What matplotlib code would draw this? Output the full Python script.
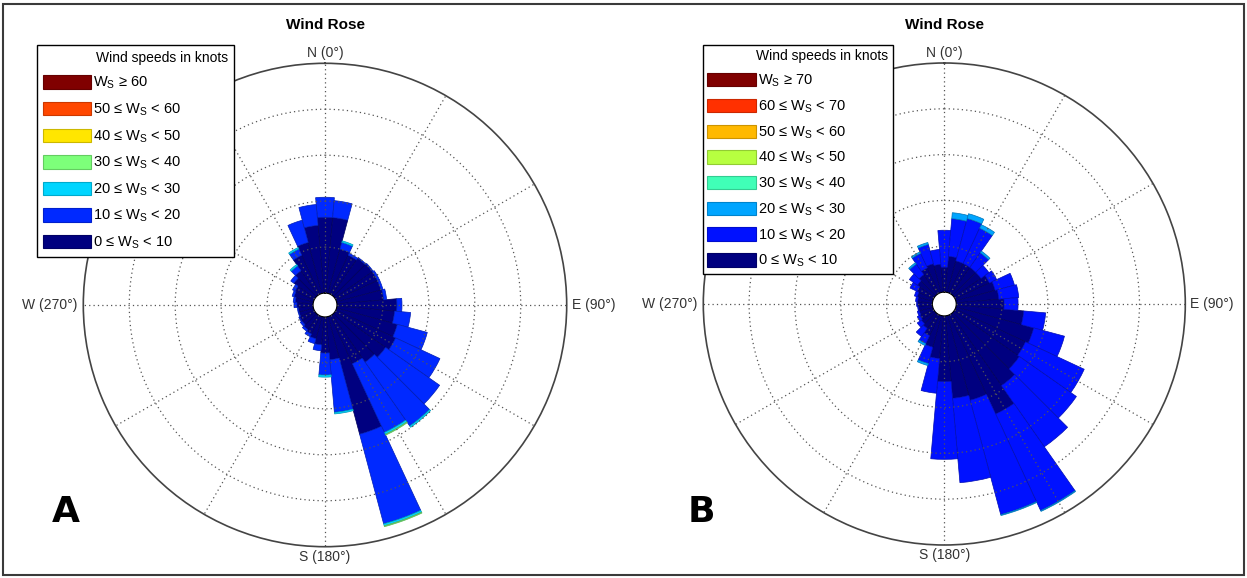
import numpy as np
import matplotlib.pyplot as plt
from matplotlib.patches import Patch, Rectangle

plt.rcParams['font.family'] = ['Liberation Sans', 'DejaVu Sans']
plt.rcParams['mathtext.default'] = 'regular'

directions = np.arange(0, 360, 10)  # degrees, sector centres

# Rose A - frequency (%) per direction and speed band
a_0_10 = [3.30, 3.30, 2.00, 1.87, 1.96, 2.00, 2.00, 2.00, 2.04, 2.61,
          2.52, 2.74, 2.87, 2.70, 2.52, 2.30, 5.30, 1.87, 1.57, 1.22,
          1.00, 0.87, 0.78, 0.70, 0.70, 0.65, 0.65, 0.70, 0.78, 0.87,
          0.91, 1.13, 1.30, 1.87, 2.30, 2.96]
a_10_20 = [0.87, 0.74, 0.30, 0.09, 0.04, 0.04, 0.09, 0.09, 0.13, 0.22,
           0.70, 1.35, 2.13, 2.87, 3.39, 3.30, 4.04, 2.30, 0.96, 0.26,
           0.22, 0.13, 0.09, 0.09, 0.04, 0.04, 0.04, 0.13, 0.09, 0.09,
           0.13, 0.17, 0.26, 0.30, 1.00, 0.91]
a_20_30 = [0, 0, 0.07, 0, 0, 0, 0, 0, 0, 0,
           0, 0, 0, 0, 0.07, 0.09, 0.09, 0.07, 0.09, 0,
           0, 0, 0, 0, 0, 0, 0, 0, 0, 0,
           0, 0, 0.07, 0.07, 0, 0]
a_30_40 = [0, 0, 0, 0, 0, 0, 0, 0, 0, 0,
           0, 0, 0, 0, 0, 0.04, 0.04, 0, 0, 0,
           0, 0, 0, 0, 0, 0, 0, 0, 0, 0,
           0, 0, 0, 0, 0, 0]
a_labels = ['0 ≤ W$_S$ < 10', '10 ≤ W$_S$ < 20', '20 ≤ W$_S$ < 30',
            '30 ≤ W$_S$ < 40', '40 ≤ W$_S$ < 50', '50 ≤ W$_S$ < 60',
            'W$_S$ ≥ 60']

# Rose B
b_0_10 = [1.09, 1.57, 1.43, 1.43, 1.43, 1.43, 1.65, 1.78, 1.87, 2.09,
          2.96, 3.52, 3.39, 3.48, 3.83, 4.78, 3.83, 3.61, 2.87, 1.87,
          1.43, 1.00, 0.78, 0.70, 0.65, 0.61, 0.61, 0.65, 0.65, 0.70,
          0.78, 0.91, 1.04, 1.22, 1.30, 1.22]
b_10_20 = [1.61, 1.65, 1.91, 1.70, 0.78, 0.43, 0.35, 0.87, 0.87, 0.61,
           0.96, 1.39, 2.83, 3.04, 3.26, 4.65, 5.17, 3.70, 3.39, 1.52,
           0.74, 0.39, 0.43, 0.22, 0.13, 0.09, 0.04, 0.04, 0.09, 0.13,
           0.35, 0.43, 0.57, 0.70, 0.87, 0.65]
b_20_30 = [0, 0.26, 0.22, 0.17, 0.09, 0, 0, 0, 0, 0,
           0, 0, 0, 0, 0, 0.04, 0.04, 0, 0, 0,
           0.09, 0.09, 0, 0, 0, 0, 0, 0, 0, 0,
           0, 0, 0.07, 0.07, 0.09, 0]
b_labels = ['0 ≤ W$_S$ < 10', '10 ≤ W$_S$ < 20', '20 ≤ W$_S$ < 30',
            '30 ≤ W$_S$ < 40', '40 ≤ W$_S$ < 50', '50 ≤ W$_S$ < 60',
            '60 ≤ W$_S$ < 70', 'W$_S$ ≥ 70']

ring_step = 2.0
ring_max = 10.0
hole = 0.52

W, H = 1247, 578
fig = plt.figure(figsize=(W / 100, H / 100), dpi=100)
fig.patches.append(Rectangle((3 / W, 3 / H), 1 - 6 / W, 1 - 7 / H,
                             transform=fig.transFigure, fill=False,
                             edgecolor='#3a3a3a', linewidth=1.5))


def darker(c, f=0.7):
    return (c[0] * f, c[1] * f, c[2] * f, 1)


def draw_rose(rect, bands, labels, leg_rect, spacing, pad, letter, letter_x):
    colors = plt.cm.jet(np.linspace(0, 1, len(labels)))
    ax = fig.add_axes(rect, projection='polar')
    ax.set_theta_zero_location('N')
    ax.set_theta_direction(-1)
    theta = np.deg2rad(directions)
    bottom = np.zeros(len(directions))
    for vals, col in zip(bands, colors):
        vals = np.asarray(vals, dtype=float)
        m = vals > 0
        ax.bar(theta[m], vals[m], width=np.deg2rad(10), bottom=bottom[m],
               color=col, edgecolor=darker(col), linewidth=0.5, zorder=1)
        bottom += vals
    ax.set_ylim(0, ring_max)
    ax.set_rorigin(-hole)
    ax.set_rgrids(np.arange(ring_step, ring_max, ring_step), labels=[])
    ax.set_thetagrids(np.arange(0, 360, 30), labels=[])
    ax.grid(True, linestyle=(0, (1, 2.5)), color='#555555', linewidth=0.9)
    ax.set_axisbelow(False)
    ax.spines['polar'].set_color('#444444')
    ax.spines['polar'].set_linewidth(1.2)
    ax.spines['inner'].set_visible(False)

    # compass labels
    px = 1 / (rect[2] * W)
    lab = dict(transform=ax.transAxes, fontsize=10, color='#333333')
    ax.text(0.5, 1 + 3 * px, 'N (0°)', ha='center', va='bottom', **lab)
    ax.text(0.5, -3 * px, 'S (180°)', ha='center', va='top', **lab)
    ax.text(1 + 5 * px, 0.5, 'E (90°)', ha='left', va='center', **lab)
    ax.text(-6 * px, 0.5, 'W (270°)', ha='right', va='center', **lab)

    cx = rect[0] + rect[2] / 2
    fig.text(cx, 1 - 25 / H, 'Wind Rose', ha='center', va='center',
             fontsize=11, fontweight='bold')

    handles = [Patch(facecolor=c, edgecolor=darker(c, 0.8), linewidth=0.8)
               for c in colors[::-1]]
    leg = fig.legend(handles, labels[::-1], loc='upper left',
                     bbox_to_anchor=leg_rect, mode='expand',
                     title='Wind speeds in knots', alignment='right',
                     fontsize=10.5, title_fontsize=10, frameon=True,
                     fancybox=False, edgecolor='black', framealpha=1,
                     handlelength=3.3, handleheight=1.03,
                     labelspacing=spacing, handletextpad=0.15,
                     borderaxespad=0, borderpad=pad)
    leg.get_frame().set_linewidth(1.0)

    fig.text(letter_x, (H - 522) / H, letter, ha='left', va='baseline',
             fontsize=26, fontweight='heavy', family='DejaVu Sans')


draw_rose([83.3 / W, (H - 546.7) / H, 483.4 / W, 483.4 / H],
          [a_0_10, a_10_20, a_20_30, a_30_40], a_labels,
          (37 / W, 1 - 258 / H, 197 / W, 213 / H), 0.7, 0.4, 'A', 52 / W)
draw_rose([703.3 / W, (H - 545) / H, 482 / W, 482 / H],
          [b_0_10, b_10_20, b_20_30], b_labels,
          (703 / W, 1 - 274 / H, 190 / W, 229 / H), 0.64, 0.3, 'B', 688 / W)

fig.savefig('out.png', dpi=100)
